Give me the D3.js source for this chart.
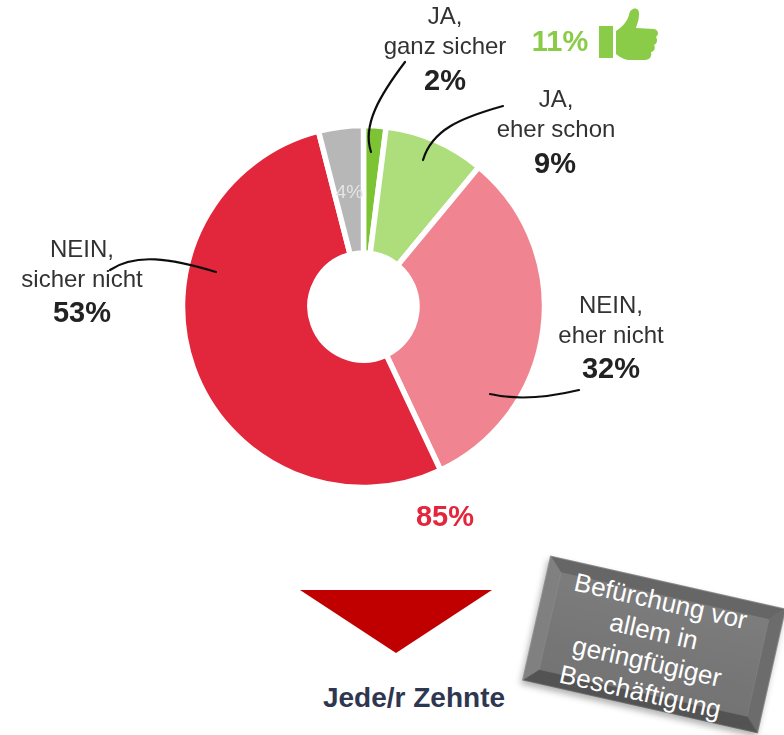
<!DOCTYPE html>
<html lang="de"><head><meta charset="utf-8">
<script src="https://cdn.jsdelivr.net/npm/d3@7/dist/d3.min.js"></script>
<style>html,body{margin:0;padding:0;background:#fff}svg{display:block}text{font-family:"Liberation Sans",Arial,sans-serif}</style>
</head><body><svg id="c" width="784" height="735"></svg>
<script>
const categories = ["JA, ganz sicher","JA, eher schon","NEIN, eher nicht","NEIN, sicher nicht","weiß nicht"];
const values = [2,9,32,53,4];
const colors = ["#7DC436","#AEDD7C","#F08591","#E2253A","#B7B7B7"];
const labelLines = [["JA,","ganz sicher"],["JA,","eher schon"],["NEIN,","eher nicht"],["NEIN,","sicher nicht"]];
const boxLines = ["Befürchung vor","allem in","geringfügiger","Beschäftigung"];

const svg = d3.select("#c");
const defs = svg.append("defs");
const soft = defs.append("filter").attr("id","soft");
soft.append("feGaussianBlur").attr("stdDeviation",0.5);
const shadow = defs.append("filter").attr("id","shadow").attr("x","-10%").attr("y","-10%").attr("width","120%").attr("height","125%");
shadow.append("feDropShadow").attr("dx",-1).attr("dy",4).attr("stdDeviation",3).attr("flood-color","#000").attr("flood-opacity",0.3);
const face = defs.append("linearGradient").attr("id","face").attr("x1",0).attr("y1",0).attr("x2",0).attr("y2",1);
face.append("stop").attr("offset","0%").attr("stop-color","#7C7C7C");
face.append("stop").attr("offset","100%").attr("stop-color","#737373");

// Donut
const pie = d3.pie().sort(null).value(d=>d);
const arc = d3.arc().innerRadius(53.5).outerRadius(181);
const g = svg.append("g").attr("transform","translate(363.5,306.5)").attr("filter","url(#soft)");
g.selectAll("path").data(pie(values)).join("path")
  .attr("d",arc).attr("fill",(d,i)=>colors[i])
  .attr("stroke","#fff").attr("stroke-width",5.5).attr("stroke-linejoin","miter");
g.append("text").attr("x",-14).attr("y",-109).attr("text-anchor","middle")
  .attr("font-size",19).attr("fill","#E4E4E4").text(values[4]+"%");

// Leader lines
const leaders = svg.append("g").attr("fill","none").attr("stroke","#111").attr("stroke-width",2.2).attr("stroke-linecap","round").attr("filter","url(#soft)");
leaders.append("path").attr("d","M405,62 C380,95 362,125 371,152");
leaders.append("path").attr("d","M503,106 C460,118 432,130 423,160");
leaders.append("path").attr("d","M110,270 C135,253 170,258 216,272");
leaders.append("path").attr("d","M490,394 C520,401 550,397 579,390");

// Labels
const labelPos = [[445,24],[556,107],[611,313],[82,257]];
const pctPos = [[445,90],[555,173],[611,378],[82,322]];
const lab = svg.append("g").attr("text-anchor","middle").attr("filter","url(#soft)");
labelLines.forEach((ls,i)=>{
  ls.forEach((t,j)=>lab.append("text").attr("x",labelPos[i][0]).attr("y",labelPos[i][1]+j*29.5)
    .attr("font-size",24).attr("fill","#333").text(t));
  lab.append("text").attr("x",pctPos[i][0]).attr("y",pctPos[i][1])
    .attr("font-size",29).attr("font-weight","bold").attr("fill","#222").text(values[i]+"%");
});

// Totals
const yes = values[0]+values[1], no = values[2]+values[3];
lab.append("text").attr("x",560).attr("y",51).attr("font-size",29).attr("font-weight","bold").attr("fill","#8ACC47").text(yes+"%");
lab.append("text").attr("x",445).attr("y",526).attr("font-size",29).attr("font-weight","bold").attr("fill","#E2253A").text(no+"%");

// Thumb icon
const thumb = svg.append("g").attr("fill","#8ACC47").attr("filter","url(#soft)");
thumb.append("rect").attr("x",599).attr("y",26).attr("width",14).attr("height",32);
thumb.append("path").attr("d","M616,31 C622,27 627,22 629,15 C630,7 640,6 639,15 C639,20 637,24 636,28 L654,29 C659,30 659,35 656,37 C658,40 657,44 654,45 C656,48 654,52 651,52 C652,56 650,60 645,60 L630,60 C625,60 621,58 616,54 Z");

// Arrow triangle
const tri = d3.line();
svg.append("path").attr("d",tri([[300,590],[492,590],[396,653]])+"Z").attr("fill","#C00000");
svg.append("text").attr("x",414).attr("y",707).attr("text-anchor","middle").attr("font-size",28).attr("font-weight","bold").attr("fill","#2F3650").text("Jede/r Zehnte");

// Bevelled box
const W=241,H=127,B=14;
const box = svg.append("g").attr("transform","translate(654,644.5) rotate(12.7)");
const sides = [
 {p:[[-W/2,-H/2],[W/2,-H/2],[W/2-B,-H/2+B],[-W/2+B,-H/2+B]],f:"#666666"},
 {p:[[W/2,-H/2],[W/2,H/2],[W/2-B,H/2-B],[W/2-B,-H/2+B]],f:"#6C6C6C"},
 {p:[[W/2,H/2],[-W/2,H/2],[-W/2+B,H/2-B],[W/2-B,H/2-B]],f:"#525252"},
 {p:[[-W/2,H/2],[-W/2,-H/2],[-W/2+B,-H/2+B],[-W/2+B,H/2-B]],f:"#808080"}];
const bev = box.append("g").attr("filter","url(#shadow)");
bev.selectAll("path").data(sides).join("path").attr("d",d=>tri(d.p)+"Z").attr("fill",d=>d.f).attr("stroke",d=>d.f).attr("stroke-width",0.5);
bev.append("rect").attr("x",-W/2+B).attr("y",-H/2+B).attr("width",W-2*B).attr("height",H-2*B).attr("fill","url(#face)");
box.selectAll("text").data(boxLines).join("text").attr("x",-3).attr("y",(d,i)=>-35+i*31).attr("text-anchor","middle")
  .attr("font-size",26).attr("fill","#fff").text(d=>d);
</script></body></html>
